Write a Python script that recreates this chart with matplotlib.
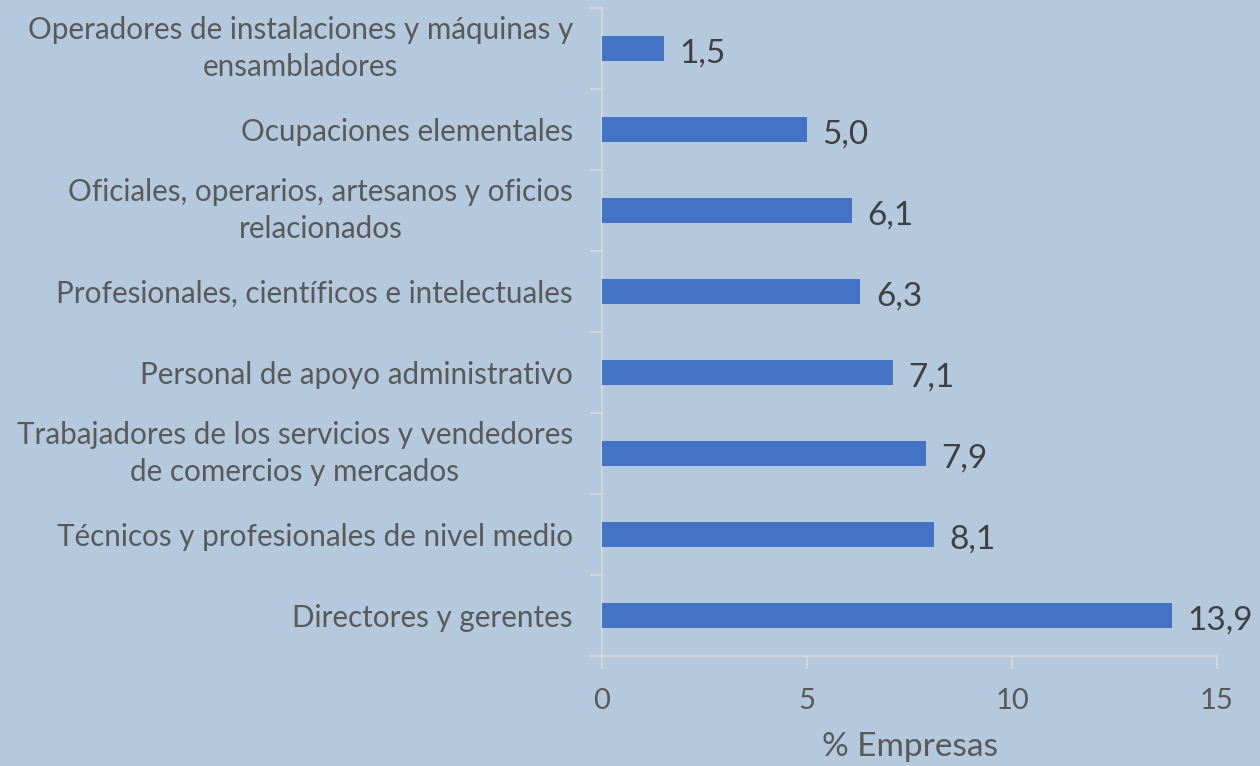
import matplotlib
matplotlib.use("Agg")
import matplotlib.pyplot as plt
import numpy as np

categories = [
    "Directores y gerentes",
    "Técnicos y profesionales de nivel medio",
    "Trabajadores de los servicios y vendedores\nde comercios y mercados",
    "Personal de apoyo administrativo",
    "Profesionales, científicos e intelectuales",
    "Oficiales, operarios, artesanos y oficios\nrelacionados",
    "Ocupaciones elementales",
    "Operadores de instalaciones y máquinas y\nensambladores",
]
values = [13.9, 8.1, 7.9, 7.1, 6.3, 6.1, 5.0, 1.5]
xticks = [0, 5, 10, 15]
xlabel = "% Empresas"

bg = "#B4C9DD"
bar_color = "#4472C4"
axis_color = "#D9D9D9"
text_color = "#595959"
label_color = "#404040"

plt.rcParams['font.family'] = ['Lato', 'DejaVu Sans']

fig = plt.figure(figsize=(12.6, 7.66), dpi=100, facecolor=bg)
ax = fig.add_axes([602/1260, 1 - 656/766, (1217 - 602)/1260, (656 - 8)/766])
ax.set_facecolor(bg)

y = np.arange(len(categories))
ax.barh(y, values, height=0.32, color=bar_color, zorder=3)

for yi, v in zip(y, values):
    ax.text(v + 0.38, yi - 0.06, f"{v:.1f}".replace(".", ","), va="center", ha="left",
            fontsize=24, color=label_color)

ax.set_xlim(0, 15)
ax.set_ylim(-0.5, len(categories) - 0.5)
ax.set_xticks(xticks)
ax.set_xticklabels([str(t) for t in xticks], fontsize=21, color=text_color)
ax.set_yticks(y)
ax.set_yticklabels(categories, fontsize=21.3, color=text_color, ha="right",
                   multialignment="center", linespacing=1.42)
for lbl in ax.get_yticklabels():
    if "\n" in lbl.get_text():
        lbl.set_va("center")
ax.set_yticks(np.arange(-0.5, len(categories), 1.0), minor=True)
ax.tick_params(axis="y", which="major", length=0, pad=21)
ax.tick_params(axis="y", which="minor", length=9, color=axis_color, width=1.2, direction="out")
ax.tick_params(axis="x", which="major", length=9, color=axis_color, width=1.2, direction="out", pad=14)

for s in ["top", "right"]:
    ax.spines[s].set_visible(False)
for s in ["left", "bottom"]:
    ax.spines[s].set_color(axis_color)
    ax.spines[s].set_linewidth(1.2)

ax.set_xlabel(xlabel, fontsize=24, color=text_color, labelpad=13)

fig.savefig("out.png", dpi=100, facecolor=bg)
